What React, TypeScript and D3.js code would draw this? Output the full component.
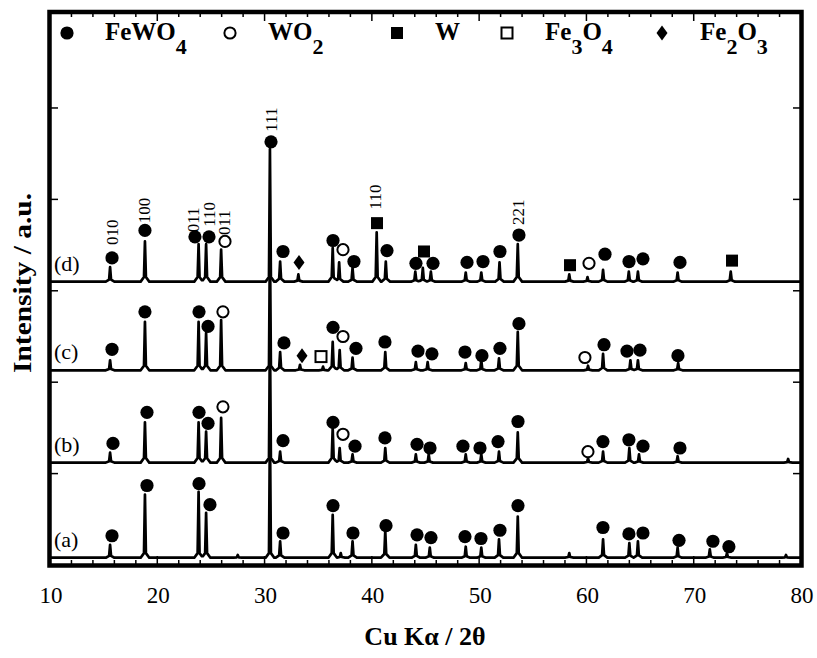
import React, { useEffect, useRef } from 'react';
import * as d3 from 'd3';

// [2theta, height above pattern baseline]
type Peak = [number, number];
// [2theta, height above pattern baseline, phase]
type Mark = [number, number, string];
// [2theta, height above pattern baseline, text]
type HklLabel = [number, number, string];

const patternNames = ['(a)', '(b)', '(c)', '(d)'];
const patternOffsets = [8, 112, 213, 310];

const peaksA: Peak[] = [
  [15.6, 14], [18.85, 69], [23.85, 72], [24.55, 49], [27.5, 3], [30.5, 145], [31.45, 18],
  [36.35, 47], [37.1, 5], [38.2, 18], [41.25, 29], [44.1, 14], [45.4, 11], [48.75, 12],
  [50.2, 11], [51.85, 20], [53.6, 45], [58.4, 5], [61.55, 20], [64.0, 16], [64.8, 18],
  [68.5, 11], [71.5, 9], [73.1, 5], [78.6, 3],
];
const peaksB: Peak[] = [
  [15.6, 11], [18.85, 44], [23.85, 44], [24.55, 34], [25.95, 49], [30.5, 145], [31.45, 12],
  [36.35, 38], [37.0, 16], [38.2, 9], [41.25, 16], [44.1, 9], [45.3, 9], [48.75, 9],
  [50.2, 9], [51.85, 12], [53.6, 33], [60.15, 5], [61.55, 12], [64.0, 16], [64.9, 9],
  [68.5, 7], [78.8, 4],
];
const peaksC: Peak[] = [
  [15.6, 11], [18.85, 53], [23.85, 53], [24.55, 41], [25.95, 55], [30.5, 145], [31.45, 20],
  [33.3, 6], [35.45, 4], [36.35, 31], [37.0, 22], [38.2, 14], [41.25, 20], [44.1, 9],
  [45.2, 9], [48.75, 8], [50.2, 11], [51.85, 13], [53.6, 42], [60.15, 5], [61.55, 18],
  [64.1, 11], [64.8, 11], [68.55, 8],
];
const peaksD: Peak[] = [
  [15.6, 16], [18.85, 44], [23.85, 41], [24.55, 41], [25.95, 35], [30.5, 145], [31.45, 22],
  [33.15, 8], [36.35, 37], [36.95, 21], [38.2, 15], [40.45, 54], [41.3, 22], [44.05, 11],
  [44.75, 15], [45.5, 11], [48.75, 10], [50.2, 10], [51.9, 21], [53.6, 41], [58.4, 8],
  [60.1, 5], [61.55, 13], [63.95, 11], [64.8, 11], [68.5, 10], [73.45, 11],
];

const marksA: Mark[] = [
  [15.78, 24, 'F'], [19.04, 79, 'F'], [23.89, 81, 'F'], [24.91, 58, 'F'], [31.72, 27, 'F'],
  [36.38, 57, 'F'], [38.24, 27, 'F'], [41.32, 35, 'F'], [44.21, 25, 'F'], [45.51, 22, 'F'],
  [48.68, 23, 'F'], [50.17, 21, 'F'], [51.94, 30, 'F'], [53.62, 57, 'F'], [61.54, 33, 'F'],
  [63.96, 26, 'F'], [65.27, 27, 'F'], [68.63, 19, 'F'], [71.79, 18, 'F'], [73.28, 12, 'F'],
];
const marksB: Mark[] = [
  [15.87, 21, 'F'], [19.04, 55, 'F'], [23.89, 55, 'F'], [24.73, 43, 'F'], [26.12, 61, 'O'],
  [31.72, 24, 'F'], [36.38, 44, 'F'], [37.31, 31, 'O'], [38.43, 18, 'F'], [41.22, 27, 'F'],
  [44.21, 20, 'F'], [45.42, 16, 'F'], [48.49, 18, 'F'], [50.08, 16, 'F'], [51.76, 23, 'F'],
  [53.62, 45, 'F'], [60.14, 12, 'O'], [61.54, 23, 'F'], [63.96, 25, 'F'], [65.27, 18, 'F'],
  [68.72, 16, 'F'],
];
const marksC: Mark[] = [
  [15.78, 23, 'F'], [18.85, 64, 'F'], [23.89, 64, 'F'], [24.73, 48, 'F'], [26.12, 64, 'O'],
  [31.81, 30, 'F'], [33.49, 16, 'H'], [35.26, 15, 'M'], [36.38, 47, 'F'], [37.31, 37, 'O'],
  [38.52, 24, 'F'], [41.22, 31, 'F'], [44.3, 21, 'F'], [45.6, 18, 'F'], [48.68, 20, 'F'],
  [50.26, 16, 'F'], [51.94, 24, 'F'], [53.71, 51, 'F'], [59.86, 14, 'O'], [61.64, 28, 'F'],
  [63.78, 21, 'F'], [64.99, 22, 'F'], [68.53, 16, 'F'],
];
const marksD: Mark[] = [
  [15.78, 26, 'F'], [18.85, 56, 'F'], [23.51, 49, 'F'], [24.82, 49, 'F'], [26.31, 44, 'O'],
  [30.6, 153, 'F'], [31.72, 33, 'F'], [33.21, 21, 'H'], [36.38, 45, 'F'], [37.31, 35, 'O'],
  [38.33, 22, 'F'], [40.48, 64, 'W'], [41.41, 34, 'F'], [44.11, 20, 'F'], [44.86, 33, 'W'],
  [45.7, 20, 'F'], [48.87, 21, 'F'], [50.36, 22, 'F'], [51.94, 33, 'F'], [53.71, 51, 'F'],
  [58.47, 18, 'W'], [60.24, 20, 'O'], [61.73, 30, 'F'], [63.97, 22, 'F'], [65.27, 25, 'F'],
  [68.72, 21, 'F'], [73.57, 23, 'W'],
];

const hklD: HklLabel[] = [
  [15.78, 40, '010'], [18.85, 64, '100'], [23.42, 54, '011'], [24.91, 60, '110'],
  [26.31, 51, '011'], [30.6, 164, '111'], [40.38, 79, '110'], [53.71, 62, '221'],
];

const xTicks = [10, 20, 30, 40, 50, 60, 70, 80];
const yTicks = [100, 200, 300, 400, 500];

const legendKinds = ['F', 'O', 'W', 'M', 'H'];
const legendTexts: [string, boolean][][] = [
  [['FeWO', false], ['4', true]],
  [['WO', false], ['2', true]],
  [['W', false]],
  [['Fe', false], ['3', true], ['O', false], ['4', true]],
  [['Fe', false], ['2', true], ['O', false], ['3', true]],
];

const patterns = [
  { peaks: peaksA, marks: marksA, hkl: [] as HklLabel[] },
  { peaks: peaksB, marks: marksB, hkl: [] as HklLabel[] },
  { peaks: peaksC, marks: marksC, hkl: [] as HklLabel[] },
  { peaks: peaksD, marks: marksD, hkl: hklD },
];

const font = 'Liberation Serif';

// peak outline: sharp tip, small flared foot
const foot = 0.4, knee = 0.09;
function bump(d: number, h: number) {
  const a = Math.abs(d);
  const kh = Math.min(0.14 * h, 5);
  if (a >= foot) return 0;
  if (a <= knee) return h - (h - kh) * a / knee;
  return kh * (foot - a) / (foot - knee);
}

function outline(peaks: Peak[], base: number): [number, number][] {
  const xs = new Set<number>([10, 80]);
  peaks.forEach(([c]) => [-foot, -knee, 0, knee, foot].forEach(dx => xs.add(+(c + dx).toFixed(3))));
  return Array.from(xs)
    .filter(v => v >= 10 && v <= 80)
    .sort((a, b) => a - b)
    .map(v => [v, base + d3.sum(peaks, ([c, h]) => bump(v - c, h))] as [number, number]);
}

function drawMark(g: any, kind: string, cx: number, cy: number) {
  if (kind === 'F') {
    g.append('circle').attr('cx', cx).attr('cy', cy).attr('r', 6.6).attr('fill', '#000');
  } else if (kind === 'O') {
    g.append('circle').attr('cx', cx).attr('cy', cy).attr('r', 5.6)
      .attr('fill', '#fff').attr('stroke', '#000').attr('stroke-width', 2);
  } else if (kind === 'W') {
    g.append('rect').attr('x', cx - 6).attr('y', cy - 6).attr('width', 12).attr('height', 12).attr('fill', '#000');
  } else if (kind === 'M') {
    g.append('rect').attr('x', cx - 5.5).attr('y', cy - 5.5).attr('width', 11).attr('height', 11)
      .attr('fill', '#fff').attr('stroke', '#000').attr('stroke-width', 2);
  } else if (kind === 'H') {
    g.append('path').attr('d', `M${cx},${cy - 7.5}L${cx + 5.5},${cy}L${cx},${cy + 7.5}L${cx - 5.5},${cy}Z`).attr('fill', '#000');
  }
}

function draw(svgEl: SVGSVGElement) {
  const svg = d3.select(svgEl);
  svg.selectAll('*').remove();

  const x = d3.scaleLinear().domain([10, 80]).range([50, 801]);
  const y = d3.scaleLinear().domain([0, 605]).range([565, 12]);

  const line = d3.line<[number, number]>().x(d => x(d[0])).y(d => y(d[1]));

  const plot = svg.append('g');
  patterns.forEach((p, i) => {
    const off = patternOffsets[i];
    plot.append('path')
      .attr('d', line(outline(p.peaks, off)))
      .attr('fill', 'none').attr('stroke', '#000').attr('stroke-width', 2.7)
      .attr('stroke-linejoin', 'round');
  });

  patterns.forEach((p, i) => {
    const off = patternOffsets[i];
    const mg = plot.append('g');
    // open symbols first so the filled ones sit on top
    p.marks.filter(m => m[2] === 'O' || m[2] === 'M').forEach(m => drawMark(mg, m[2], x(m[0]), y(off + m[1])));
    p.marks.filter(m => m[2] !== 'O' && m[2] !== 'M').forEach(m => drawMark(mg, m[2], x(m[0]), y(off + m[1])));

    p.hkl.forEach(([t, h, txt]) => {
      plot.append('text')
        .attr('transform', `translate(${x(t)},${y(off + h)}) rotate(-90)`)
        .attr('dominant-baseline', 'central')
        .style('font-family', font).style('font-size', '17px')
        .text(txt);
    });

    plot.append('text')
      .attr('x', 54).attr('y', y(off) - 11)
      .style('font-family', font).style('font-size', '22px')
      .text(patternNames[i]);
  });

  // frame
  svg.append('rect').attr('x', 49.5).attr('y', 12).attr('width', 752).attr('height', 553.5)
    .attr('fill', 'none').attr('stroke', '#000').attr('stroke-width', 4.5);

  // ticks
  const tg = svg.append('g').attr('stroke', '#000').attr('stroke-width', 1.5);
  d3.range(12, 80, 2).forEach(t => {
    const len = t % 10 === 0 ? 9 : 5;
    tg.append('line').attr('x1', x(t)).attr('x2', x(t)).attr('y1', 565).attr('y2', 565 - len);
    tg.append('line').attr('x1', x(t)).attr('x2', x(t)).attr('y1', 12).attr('y2', 12 + len);
  });
  yTicks.forEach(v => {
    tg.append('line').attr('x1', 50).attr('x2', 58).attr('y1', y(v)).attr('y2', y(v));
    tg.append('line').attr('x1', 801).attr('x2', 793).attr('y1', y(v)).attr('y2', y(v));
  });

  xTicks.forEach(t => {
    svg.append('text').attr('x', x(t) + 1).attr('y', 603)
      .attr('text-anchor', 'middle')
      .style('font-family', font).style('font-size', '23px')
      .text(t);
  });

  svg.append('text').attr('x', 425).attr('y', 645)
    .attr('text-anchor', 'middle')
    .style('font-family', font).style('font-size', '26px').style('font-weight', 'bold')
    .text('Cu Kα / 2θ');

  svg.append('text')
    .attr('transform', `translate(31,283) rotate(-90)`)
    .attr('text-anchor', 'middle')
    .style('font-family', font).style('font-size', '25px').style('font-weight', 'bold')
    .attr('textLength', 180).attr('lengthAdjust', 'spacingAndGlyphs')
    .text('Intensity / a.u.');

  // legend
  const legendX = [67, 230, 397, 507, 662];
  const lg = svg.append('g');
  legendKinds.forEach((k, i) => {
    drawMark(lg, k, legendX[i], 33);
    const tx = lg.append('text').attr('x', legendX[i] + 38).attr('y', 40)
      .style('font-family', font).style('font-size', '25px').style('font-weight', 'bold');
    let shifted = false;
    legendTexts[i].forEach(([s, sub]) => {
      const dy = sub && !shifted ? 14 : !sub && shifted ? -14 : 0;
      shifted = sub;
      tx.append('tspan').attr('dy', dy).style('font-size', sub ? '22px' : '25px').text(s);
    });
  });
}

export default function App() {
  const ref = useRef<SVGSVGElement>(null);
  useEffect(() => {
    if (ref.current) draw(ref.current);
  }, []);
  return (
    <svg ref={ref} width={817} height={658}
      style={{ position: 'absolute', left: 0, top: 0, background: '#fff', fontFamily: font }} />
  );
}
